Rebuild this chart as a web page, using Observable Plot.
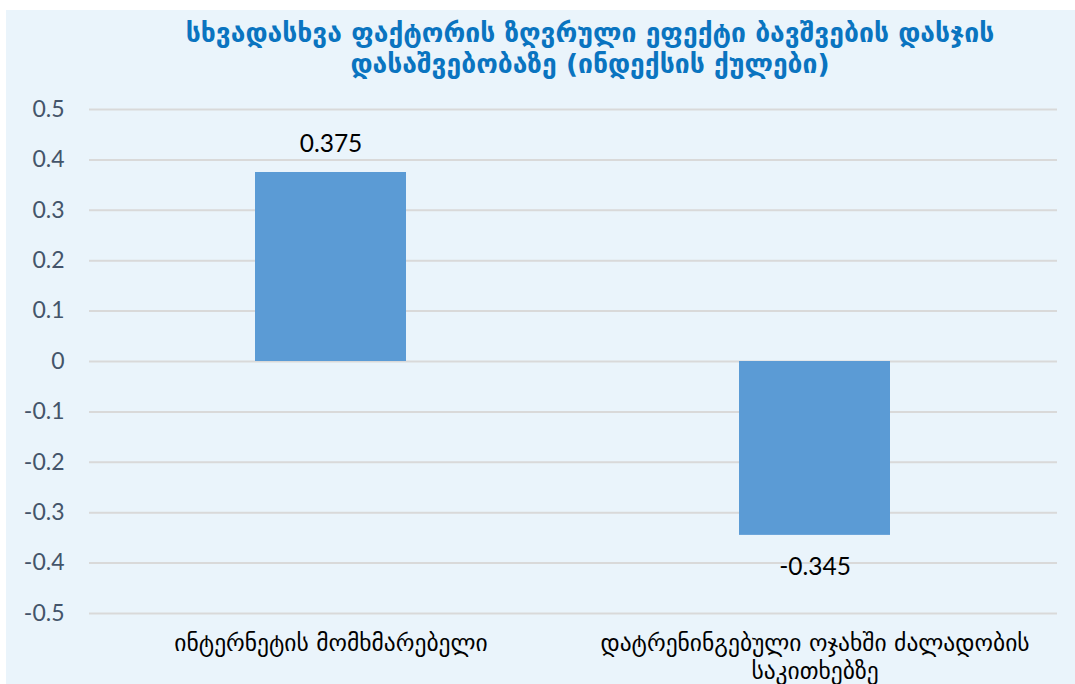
<!DOCTYPE html>
<html>
<head>
<meta charset="utf-8">
<script src="https://cdn.jsdelivr.net/npm/d3@7"></script>
<script src="https://cdn.jsdelivr.net/npm/@observablehq/plot@0.6"></script>
<style>
  html, body { margin: 0; padding: 0; background: #ffffff; }
  #page { position: relative; width: 1075px; height: 684px; overflow: hidden; }
  #panel { position: absolute; left: 6px; top: 10px; width: 1069px; height: 674px; background: #EAF4FB; }
  #title { position: absolute; left: 90px; width: 1000px; top: 17px; text-align: center;
           font-family: "DejaVu Sans", sans-serif; font-weight: bold; font-size: 26.5px; line-height: 31px;
           color: #0A74C0; }
  #chart { position: absolute; left: 0; top: 0; }
</style>
</head>
<body>
<div id="page">
  <div id="panel"></div>
  <div id="title">სხვადასხვა ფაქტორის ზღვრული ეფექტი ბავშვების დასჯის<br>დასაშვებობაზე (ინდექსის ქულები)</div>
  <div id="chart"></div>
</div>
<script>
const categories = ["ინტერნეტის მომხმარებელი", "დატრენინგებული ოჯახში ძალადობის საკითხებზე"];
const tickLabels = ["ინტერნეტის მომხმარებელი", "დატრენინგებული ოჯახში ძალადობის\nსაკითხებზე"];
const values = [0.375, -0.345];
const valueLabels = ["0.375", "-0.345"];
const yTicks = [-0.5, -0.4, -0.3, -0.2, -0.1, 0, 0.1, 0.2, 0.3, 0.4, 0.5];

const data = categories.map((c, i) => ({cat: c, value: values[i], label: valueLabels[i]}));
const labelOf = new Map(categories.map((c, i) => [c, tickLabels[i]]));
const numFont = "Lato, 'Open Sans', sans-serif";

const chart = Plot.plot({
  width: 1075,
  height: 684,
  marginLeft: 89,
  marginRight: 18,
  marginTop: 109,
  marginBottom: 71,
  style: {background: "transparent", overflow: "visible"},
  x: {domain: categories, paddingInner: 0.688, paddingOuter: 0.344, axis: null},
  y: {domain: [-0.5, 0.5], axis: null},
  marks: [
    Plot.gridY(yTicks, {stroke: "#D9D9D9", strokeOpacity: 1, strokeWidth: 2}),
    Plot.axisY(yTicks, {
      tickSize: 0, tickPadding: 25, fontSize: 23, fill: "#44546A",
      fontFamily: numFont,
      tickFormat: d => d === 0 ? "0" : String(+d.toFixed(1)),
      label: null
    }),
    Plot.barY(data, {x: "cat", y: "value", fill: "#5B9BD5"}),
    Plot.text(data.filter(d => d.value >= 0), {x: "cat", y: "value", text: "label", dy: -28,
      fontSize: 24.5, fill: "#000000", fontFamily: numFont}),
    Plot.text(data.filter(d => d.value < 0), {x: "cat", y: "value", text: "label", dy: 32,
      fontSize: 24.5, fill: "#000000", fontFamily: numFont}),
    Plot.axisX(categories, {
      tickSize: 0, tickPadding: 17, fontSize: 23.5, fill: "#000000",
      fontFamily: "'DejaVu Sans', sans-serif", lineHeight: 1.2,
      tickFormat: d => labelOf.get(d), label: null
    })
  ]
});
document.getElementById("chart").appendChild(chart);
</script>
</body>
</html>
